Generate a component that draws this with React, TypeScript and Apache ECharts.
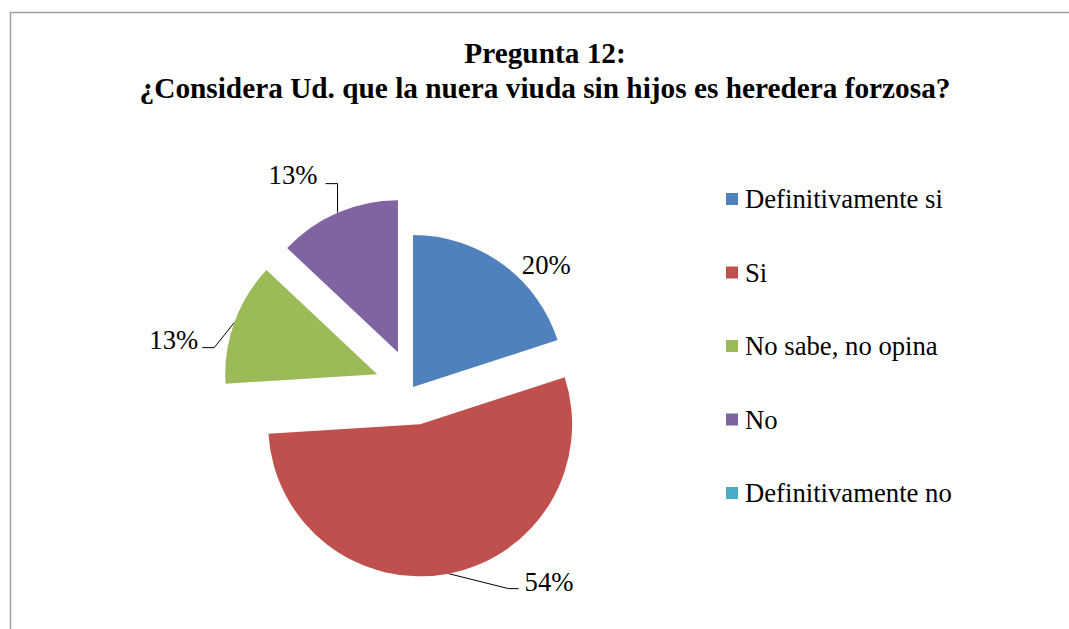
import React, { useEffect, useRef } from "react";
import * as echarts from "echarts";

const categories = [
  "Definitivamente si",
  "Si",
  "No sabe, no opina",
  "No",
  "Definitivamente no",
];
const percentages = [20, 54, 13, 13, 0];
const exploded = [false, true, true, true, false];
const colors = ["#4F81BD", "#C0504D", "#9BBB59", "#8064A2", "#4BACC6"];
const titleLines = ["Pregunta 12:", "¿Considera Ud. que la nuera viuda sin hijos es heredera forzosa?"];

// leader-line styling: elbow offset from slice edge, horizontal run, gap to text, text vertical shift
const leaders: any[] = [
  null,
  { ex: 60, ey: 15, run: 10, gap: 6, ty: -7 },
  { ex: -20, ey: 25, run: -12, gap: 4, ty: -8 },
  { ex: 0, ey: -29, run: -12, gap: 8, ty: -9 },
  null,
];

const FONT = "'Liberation Serif', 'Times New Roman', serif";

export default function App() {
  const ref = useRef<HTMLDivElement>(null);
  useEffect(() => {
    if (!ref.current) return;
    const chart = echarts.init(ref.current, null, { renderer: "svg" });
    const data = categories.map((name, i) => ({
      name,
      value: percentages[i],
      selected: exploded[i],
      itemStyle: { color: colors[i] },
      label: { show: percentages[i] > 0 },
      labelLine: { show: !!leaders[i], length: 6, length2: 14 },
    }));
    chart.setOption({
      animation: false,
      backgroundColor: "#ffffff",
      title: {
        text: titleLines.join("\n"),
        left: 540,
        textAlign: "center",
        top: 30,
        textStyle: {
          fontFamily: FONT,
          fontSize: 29.3,
          fontWeight: "bold",
          color: "#000",
          lineHeight: 35,
        },
      },
      graphic: [
        {
          type: "rect",
          shape: { x: 10.5, y: 12.5, width: 1200, height: 800 },
          style: { fill: "none", stroke: "#a0a0a0", lineWidth: 1.5 },
          silent: true,
        },
      ],
      legend: {
        orient: "vertical",
        left: 721,
        top: 180,
        itemWidth: 12,
        itemHeight: 12,
        itemGap: 45.5,
        icon: "rect",
        selectedMode: false,
        data: categories,
        textStyle: {
          fontFamily: FONT,
          fontSize: 26.7,
          color: "#000",
          lineHeight: 28,
          padding: [0, 0, 0, 2],
        },
      },
      series: [
        {
          type: "pie",
          center: [413, 387],
          radius: 152,
          startAngle: 90,
          clockwise: true,
          selectedMode: "multiple",
          selectedOffset: 38,
          avoidLabelOverlap: false,
          emphasis: { disabled: true },
          label: {
            show: true,
            position: "outside",
            formatter: "{c}%",
            fontFamily: FONT,
            fontSize: 26.7,
            color: "#000",
          },
          labelLine: { lineStyle: { color: "#000", width: 1 } },
          labelLayout: (p: any) => {
            const L = leaders[p.dataIndex];
            const pts = p.labelLinePoints;
            if (!L || !pts) return { dx: -3, dy: 6 };
            const r = p.labelRect;
            const p0 = pts[0];
            const p1 = [p0[0] + L.ex, p0[1] + L.ey];
            const p2 = [p1[0] + L.run, p1[1]];
            const curCy = r.y + r.height / 2;
            const dx =
              L.run < 0
                ? p2[0] - L.gap - (r.x + r.width)
                : p2[0] + L.gap - r.x;
            const dy = p2[1] + L.ty - curCy;
            return { dx, dy, labelLinePoints: [p0, p1, p2] };
          },
          data,
        },
      ],
    });
    return () => chart.dispose();
  }, []);
  return (
    <div
      ref={ref}
      style={{ position: "fixed", left: 0, top: 0, width: 1069, height: 629 }}
    />
  );
}
